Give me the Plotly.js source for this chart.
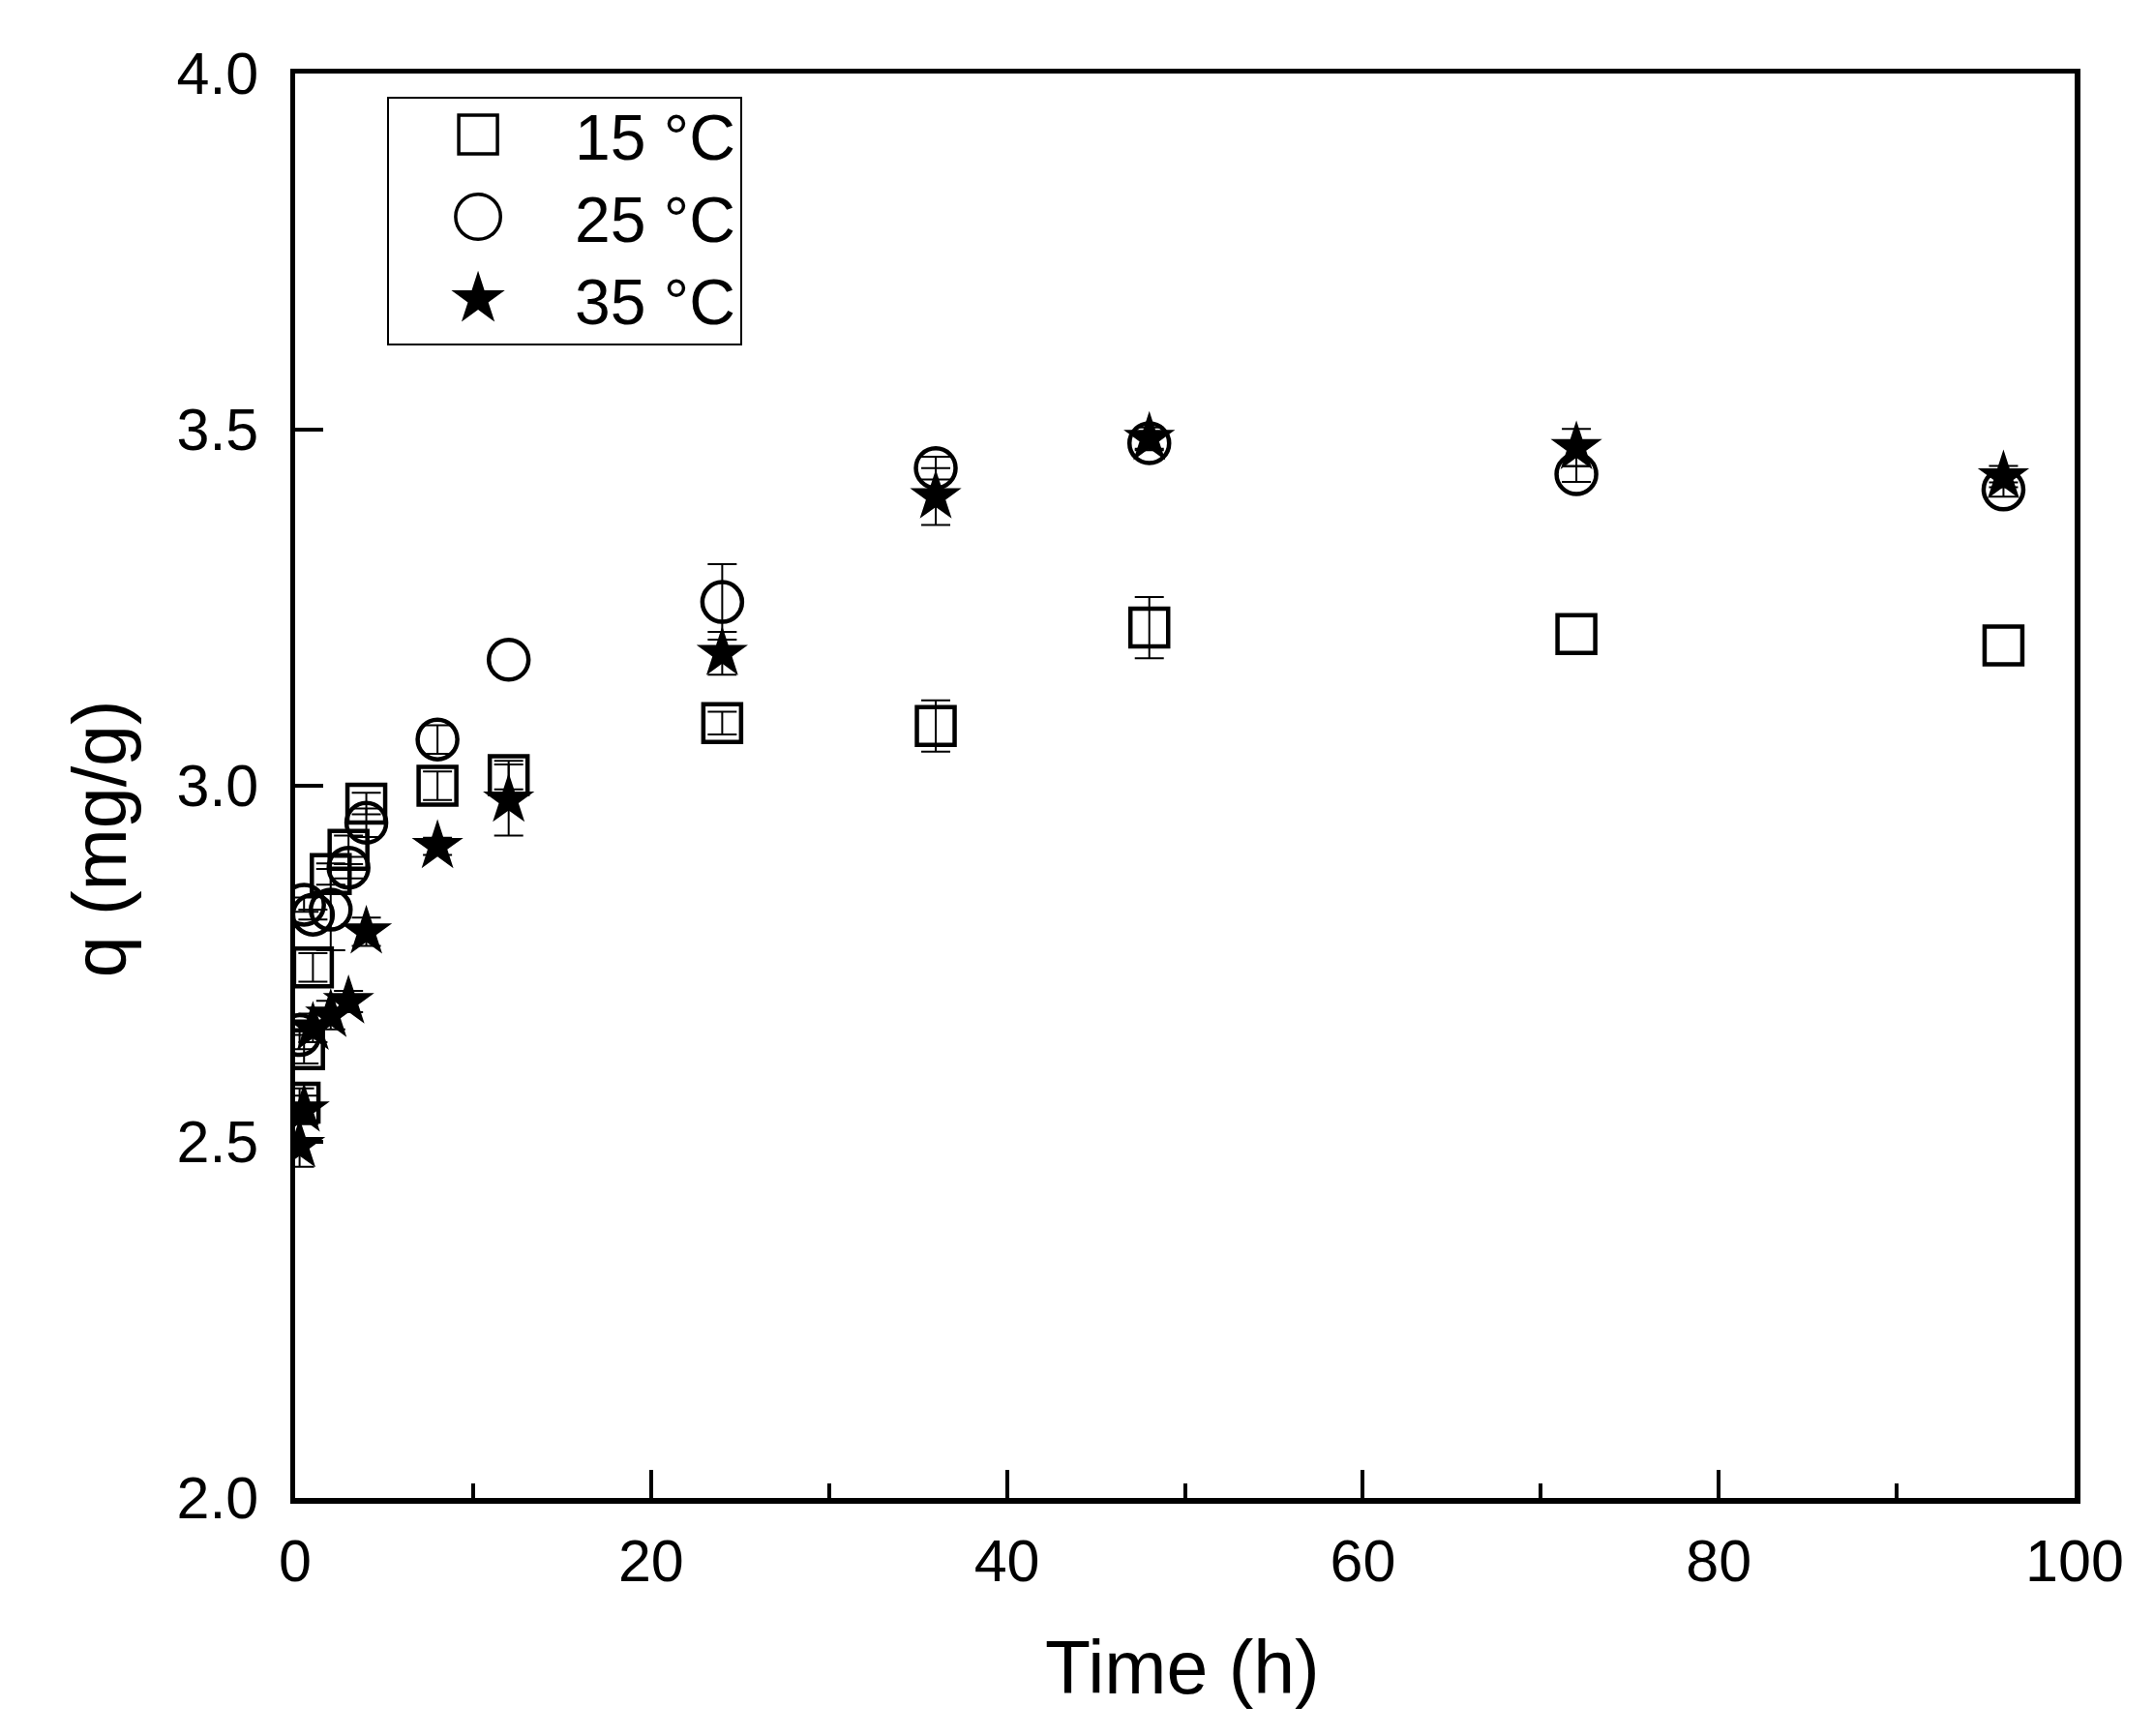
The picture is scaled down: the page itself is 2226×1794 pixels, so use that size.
<!DOCTYPE html>
<html>
<head>
<meta charset="utf-8">
<script src="https://cdn.plot.ly/plotly-3.0.1.min.js"></script>
<style>
  html, body { margin: 0; padding: 0; background: #fff; }
  #chart { width: 2226px; height: 1794px; }
</style>
</head>
<body>
<div id="chart"></div>
<script>
// sampling times (h)
const time = [0.25, 0.5, 1, 2, 3, 4, 8, 12, 24, 36, 48, 72, 96];

// adsorbed amount q (mg/g) and error per temperature
// (NaN where the bar is hidden inside the symbol)
const q15 = [2.555, 2.63, 2.745, 2.876, 2.91, 2.975, 3.0, 3.015, 3.088, 3.084, 3.222, 3.213, 3.197];
const err15 = [0.02, 0.02, 0.02, 0.015, 0.02, 0.015, 0.02, 0.02, 0.016, 0.036, 0.043, NaN, NaN];

const q25 = [2.65, 2.833, 2.819, 2.826, 2.885, 2.948, 3.065, 3.177, 3.258, 3.446, 3.481, 3.4375, 3.416];
const err25 = [0.02, 0.01, 0.007, 0.057, 0.015, 0.02, 0.02, NaN, 0.053, 0.016, 0.01, 0.011, 0.01];

const q35 = [2.495, 2.545, 2.66, 2.678, 2.697, 2.795, 2.915, 2.98, 3.186, 3.406, 3.488, 3.475, 3.434];
const err35 = [0.03, 0.02, 0.02, 0.02, 0.015, 0.02, 0.012, 0.05, 0.03, 0.04, 0.015, 0.026, 0.015];

const seriesNames = ['15 °C', '25 °C', '35 °C'];

const FONT = 'Liberation Sans, Arial, sans-serif';

function errBar(arr) {
	return { type: 'data', array: arr, visible: true, color: '#000', thickness: 2, width: 15 };
}

const trace15 = {
	x: time, y: q15, name: seriesNames[0], type: 'scatter', mode: 'markers',
	marker: { symbol: 'square-open', size: 39, color: '#000', line: { width: 4.5, color: '#000' } },
	error_y: errBar(err15)
};

const trace25 = {
	x: time, y: q25, name: seriesNames[1], type: 'scatter', mode: 'markers',
	marker: { symbol: 'circle-open', size: 41, color: '#000', line: { width: 4.5, color: '#000' } },
	error_y: errBar(err25)
};

const trace35 = {
	x: time, y: q35, name: seriesNames[2], type: 'scatter', mode: 'markers',
	marker: { symbol: 'star', size: 40, color: '#000', line: { width: 0 } },
	error_y: errBar(err35)
};

const data = [trace15, trace25, trace35];

const layout = {
	width: 2226,
	height: 1794,
	margin: { l: 305, r: 82, t: 76, b: 246 },
	paper_bgcolor: '#fff',
	plot_bgcolor: '#fff',
	font: { family: FONT, color: '#000', size: 61 },
	showlegend: true,
	legend: {
		x: 0.0517, y: 0.9837, xanchor: 'left', yanchor: 'top',
		bgcolor: '#fff', bordercolor: '#000', borderwidth: 2,
		font: { family: FONT, size: 66, color: '#000' },
		itemwidth: 182,
		tracegroupgap: 0
	},
	xaxis: {
		range: [0, 100],
		dtick: 20,
		tick0: 0,
		showgrid: false,
		zeroline: false,
		showline: true,
		linecolor: '#000',
		linewidth: 5.5,
		mirror: true,
		ticks: 'inside',
		ticklen: 29,
		tickwidth: 4,
		tickcolor: '#000',
		ticklabelstandoff: 7,
		tickfont: { family: FONT, size: 61, color: '#000' },
		minor: { ticks: 'inside', dtick: 10, ticklen: 15, tickwidth: 4, tickcolor: '#000', showgrid: false }
	},
	yaxis: {
		range: [2, 4],
		dtick: 0.5,
		tick0: 2,
		tickformat: '.1f',
		showgrid: false,
		zeroline: false,
		showline: true,
		linecolor: '#000',
		linewidth: 5.5,
		mirror: true,
		ticks: 'inside',
		ticklen: 29,
		tickwidth: 4,
		tickcolor: '#000',
		ticklabelstandoff: 20,
		tickfont: { family: FONT, size: 61, color: '#000' }
	},
	annotations: [
		{
			text: 'Time (h)', xref: 'paper', yref: 'paper',
			x: 0.4985, y: -0.1189, xanchor: 'center', yanchor: 'middle',
			showarrow: false, font: { family: FONT, size: 77, color: '#000' }
		},
		{
			text: 'q (mg/g)', xref: 'paper', yref: 'paper',
			x: -0.1098, y: 0.4626, xanchor: 'center', yanchor: 'middle',
			textangle: -90,
			showarrow: false, font: { family: FONT, size: 77, color: '#000' }
		}
	]
};

const config = { displayModeBar: false, staticPlot: true };

// legend symbols are capped in size by plotly, so blow them up afterwards
const legendScale = [2.5, 2.9, 2.6];
const legendRowY = [39, 124, 209];   // row centres below the legend top
const legendBoxH = 255;

Plotly.newPlot('chart', data, layout, config).then(function() {
	const items = document.querySelectorAll('.legend .traces');
	items.forEach(function(item, i) {
		const m = /translate\(\s*([-\d.]+)/.exec(item.getAttribute('transform') || '');
		const tx = m ? parseFloat(m[1]) : 2;
		item.setAttribute('transform', 'translate(' + tx + ',' + legendRowY[i] + ')');
		item.querySelectorAll('path.scatterpts').forEach(function(p) {
			const s = legendScale[i];
			p.setAttribute('transform', 'translate(92,0) scale(' + s + ')');
			if (i < 2) p.style.strokeWidth = (3.5 / s) + 'px';
		});
	});
	const bg = document.querySelector('.legend rect.bg');
	if (bg) bg.setAttribute('height', legendBoxH);
});
</script>
</body>
</html>
